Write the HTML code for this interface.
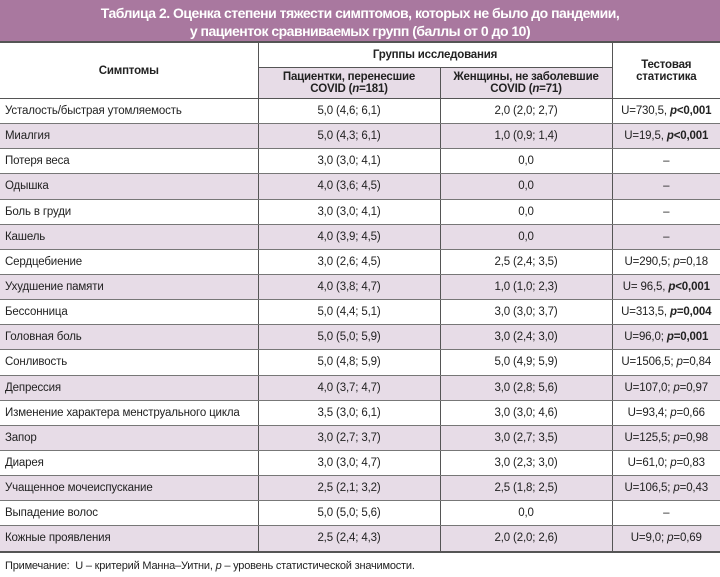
<!DOCTYPE html>
<html><head><meta charset="utf-8"><style>
body{margin:0;width:720px;height:577px;background:#fff;font-family:"Liberation Sans",sans-serif;color:#222;overflow:hidden}
.title{height:43px;background:#a9789f;color:#fff;font-weight:bold;font-size:14px;text-align:center;line-height:18px;padding-top:4px;box-sizing:border-box;letter-spacing:-0.5px;border-bottom:2px solid #555}
table{border-collapse:collapse;width:720px;table-layout:fixed;font-size:11.5px;letter-spacing:-0.15px}
td{padding:0;border-bottom:1px solid #777;text-align:center;height:24.15px}
td.l{text-align:left;padding-left:5px}
td+td{border-left:1px solid #555}
tr.a td{background:#e7dce7}
th{font-weight:bold;font-size:11.5px;border-bottom:1px solid #555;letter-spacing:-0.2px}
th+th{border-left:1px solid #555}
.sub{background:#e7dce7}
.last td{border-bottom:2px solid #555}
.note{font-size:11px;padding:7px 0 0 5px;letter-spacing:-0.2px}
</style></head><body>
<div class="title">Таблица 2. Оценка степени тяжести симптомов, которых не было до пандемии,<br>у пациенток сравниваемых групп (баллы от 0 до 10)</div>
<table>
<colgroup><col style="width:258px"><col style="width:182px"><col style="width:172px"><col style="width:108px"></colgroup>
<tr><th rowspan="2" style="height:51px">Симптомы</th><th colspan="2" style="height:22px">Группы исследования</th><th rowspan="2">Тестовая<br>статистика</th></tr>
<tr><th class="sub" style="height:28px;border-left:1px solid #555">Пациентки, перенесшие<br>COVID (<i>n</i>=181)</th><th class="sub">Женщины, не заболевшие<br>COVID (<i>n</i>=71)</th></tr>
<tr><td class="l">Усталость/быстрая утомляемость</td><td>5,0 (4,6; 6,1)</td><td>2,0 (2,0; 2,7)</td><td>U=730,5, <b><i>p</i>&lt;0,001</b></td></tr>
<tr class="a"><td class="l">Миалгия</td><td>5,0 (4,3; 6,1)</td><td>1,0 (0,9; 1,4)</td><td>U=19,5, <b><i>p</i>&lt;0,001</b></td></tr>
<tr><td class="l">Потеря веса</td><td>3,0 (3,0; 4,1)</td><td>0,0</td><td>–</td></tr>
<tr class="a"><td class="l">Одышка</td><td>4,0 (3,6; 4,5)</td><td>0,0</td><td>–</td></tr>
<tr><td class="l">Боль в груди</td><td>3,0 (3,0; 4,1)</td><td>0,0</td><td>–</td></tr>
<tr class="a"><td class="l">Кашель</td><td>4,0 (3,9; 4,5)</td><td>0,0</td><td>–</td></tr>
<tr><td class="l">Сердцебиение</td><td>3,0 (2,6; 4,5)</td><td>2,5 (2,4; 3,5)</td><td>U=290,5; <i>p</i>=0,18</td></tr>
<tr class="a"><td class="l">Ухудшение памяти</td><td>4,0 (3,8; 4,7)</td><td>1,0 (1,0; 2,3)</td><td>U= 96,5, <b><i>p</i>&lt;0,001</b></td></tr>
<tr><td class="l">Бессонница</td><td>5,0 (4,4; 5,1)</td><td>3,0 (3,0; 3,7)</td><td>U=313,5, <b><i>p</i>=0,004</b></td></tr>
<tr class="a"><td class="l">Головная боль</td><td>5,0 (5,0; 5,9)</td><td>3,0 (2,4; 3,0)</td><td>U=96,0; <b><i>p</i>=0,001</b></td></tr>
<tr><td class="l">Сонливость</td><td>5,0 (4,8; 5,9)</td><td>5,0 (4,9; 5,9)</td><td>U=1506,5; <i>p</i>=0,84</td></tr>
<tr class="a"><td class="l">Депрессия</td><td>4,0 (3,7; 4,7)</td><td>3,0 (2,8; 5,6)</td><td>U=107,0; <i>p</i>=0,97</td></tr>
<tr><td class="l">Изменение характера менструального цикла</td><td>3,5 (3,0; 6,1)</td><td>3,0 (3,0; 4,6)</td><td>U=93,4; <i>p</i>=0,66</td></tr>
<tr class="a"><td class="l">Запор</td><td>3,0 (2,7; 3,7)</td><td>3,0 (2,7; 3,5)</td><td>U=125,5; <i>p</i>=0,98</td></tr>
<tr><td class="l">Диарея</td><td>3,0 (3,0; 4,7)</td><td>3,0 (2,3; 3,0)</td><td>U=61,0; <i>p</i>=0,83</td></tr>
<tr class="a"><td class="l">Учащенное мочеиспускание</td><td>2,5 (2,1; 3,2)</td><td>2,5 (1,8; 2,5)</td><td>U=106,5; <i>p</i>=0,43</td></tr>
<tr><td class="l">Выпадение волос</td><td>5,0 (5,0; 5,6)</td><td>0,0</td><td>–</td></tr>
<tr class="a last"><td class="l">Кожные проявления</td><td>2,5 (2,4; 4,3)</td><td>2,0 (2,0; 2,6)</td><td>U=9,0; <i>p</i>=0,69</td></tr>
</table>
<div class="note">Примечание:&nbsp; U – критерий Манна–Уитни, <i>p</i> – уровень статистической значимости.</div>
</body></html>
